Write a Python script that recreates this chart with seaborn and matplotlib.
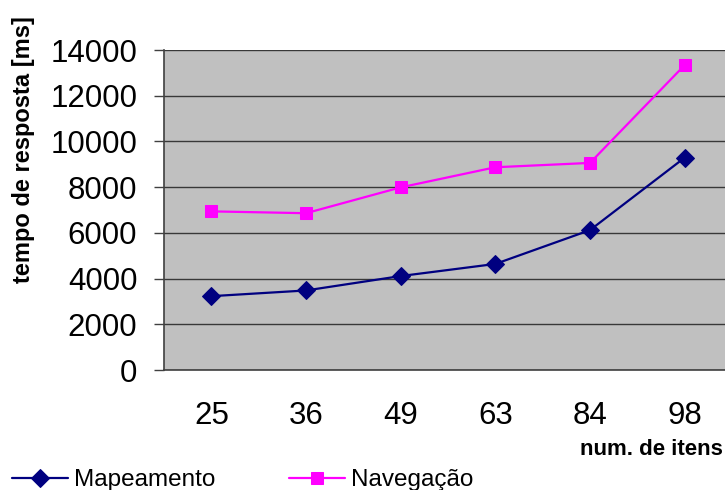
import matplotlib
matplotlib.use("Agg")
import matplotlib.pyplot as plt
import seaborn as sns
import pandas as pd
import numpy as np

categories = ["25", "36", "49", "63", "84", "98"]
mapeamento = [3230, 3480, 4110, 4640, 6120, 9290]
navegacao = [6940, 6860, 7990, 8870, 9060, 13340]
y_ticks = [0, 2000, 4000, 6000, 8000, 10000, 12000, 14000]

sns.set_theme(style="white")
plt.rcParams['font.family'] = ['Liberation Sans', 'DejaVu Sans']
plt.rcParams['text.color'] = 'black'
plt.rcParams['xtick.labelcolor'] = 'black'
plt.rcParams['ytick.labelcolor'] = 'black'

fig = plt.figure(figsize=(7.25, 4.9), dpi=100)
ax = fig.add_axes([164/725, 120/490, 568/725, 320/490])
ax.set_facecolor("#C0C0C0")

df = pd.DataFrame({"itens": categories, "Mapeamento": mapeamento, "Navegação": navegacao})

sns.lineplot(data=df, x="itens", y="Mapeamento", ax=ax, color="#000080", marker="D",
             markersize=9, markeredgecolor="#000080", linewidth=1.6, label="Mapeamento", sort=False)
sns.lineplot(data=df, x="itens", y="Navegação", ax=ax, color="#FF00FF", marker="s",
             markersize=8.5, markeredgecolor="#FF00FF", linewidth=1.6, label="Navegação", sort=False)

ax.set_xlim(-0.5, len(categories) - 0.5)
ax.set_ylim(0, 14000)
ax.set_yticks(y_ticks)
ax.set_yticklabels([str(v) for v in y_ticks], fontsize=22.5, color="black")
ax.set_xticks(range(len(categories)))
ax.set_xticklabels(categories, fontsize=22.5, color="black")
ax.set_xticks(np.arange(-0.5, len(categories)), minor=True)
ax.tick_params(axis="x", which="major", length=0, pad=22)
ax.tick_params(axis="x", which="minor", length=7.2, width=1, color="#404040", direction="out")
ax.tick_params(axis="y", which="major", length=7.2, width=1, color="#404040", direction="out", pad=12, left=True)
ax.yaxis.grid(True, color="#383838", linewidth=1)
ax.xaxis.grid(False)
ax.set_axisbelow(True)
for s in ["top", "right"]:
    ax.spines[s].set_visible(False)
for s in ["left", "bottom"]:
    ax.spines[s].set_color("#404040")
    ax.spines[s].set_linewidth(1.2)
ax.set_xlabel("")
ax.set_ylabel("")

handles, labels = ax.get_legend_handles_labels()
ax.get_legend().remove()
leg = fig.legend(handles, labels, loc="center left", bbox_to_anchor=(12/725, 10/490), ncol=2,
                 frameon=False, fontsize=17.5, handlelength=2.3, handletextpad=0.25,
                 columnspacing=3.05, borderpad=0, borderaxespad=0)
for t in leg.get_texts():
    t.set_color("black")

fig.text(24/725, 340/490, "tempo de resposta [ms]", rotation=90, fontsize=17,
         fontweight="bold", ha="center", va="center", color="black")
fig.text(723/725, 41/490, "num. de itens", fontsize=16, fontweight="bold", ha="right", va="center",
         color="black")

fig.savefig("out.png", dpi=100)
